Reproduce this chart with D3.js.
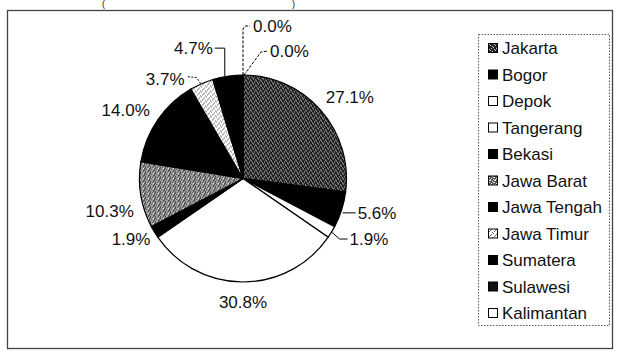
<!DOCTYPE html>
<html><head><meta charset="utf-8">
<script src="https://cdn.jsdelivr.net/npm/d3@7/dist/d3.min.js"></script>
<style>
html,body{margin:0;padding:0;background:#fff;}
svg{display:block;}
text{font-family:"Liberation Sans",Arial,sans-serif;fill:#111;}
</style></head>
<body>
<script>
const categories = ["Jakarta","Bogor","Depok","Tangerang","Bekasi","Jawa Barat","Jawa Tengah","Jawa Timur","Sumatera","Sulawesi","Kalimantan"];
const values = [27.1, 5.6, 1.9, 30.8, 1.9, 10.3, 14.0, 3.7, 4.7, 0.0, 0.0];
const labels = ["27.1%","5.6%","1.9%","30.8%","1.9%","10.3%","14.0%","3.7%","4.7%","0.0%","0.0%"];
const fills = ["url(#pJak)","#000","#fff","#fff","#000","url(#pJB)","#000","url(#pJT)","#000","#111","#fff"];

const W=617,H=357;
const svg=d3.select("body").append("svg").attr("width",W).attr("height",H);
const defs=svg.append("defs");
function pat(id,bg,dots,dotColor,size){
  const p=defs.append("pattern").attr("id",id).attr("patternUnits","userSpaceOnUse").attr("width",size).attr("height",size);
  p.append("rect").attr("width",size).attr("height",size).attr("fill",bg);
  dots.forEach(d=>p.append("rect").attr("x",d[0]).attr("y",d[1]).attr("width",1).attr("height",1).attr("fill",dotColor));
}
pat("pJak","#222",[[0,0],[2,1],[1,3],[3,2],[4,4]],"#c8c8c8",5);
pat("pJB","#555",[[0,0],[2,1],[1,3],[3,2],[4,0],[0,4],[3,4],[4,2]],"#e8e8e8",5);
pat("pJT","#ffffff",[[0,0],[2,2],[4,1],[1,4],[3,3]],"#6a6a6a",5);

// outer frame
svg.append("rect").attr("x",7.5).attr("y",10.5).attr("width",605).attr("height",338)
  .attr("fill","none").attr("stroke","#444").attr("stroke-width",1.3);

// title fragments (parentheses visible at the top edge)
svg.append("text").attr("x",102).attr("y",6.5).attr("font-size",9).text("(");
svg.append("text").attr("x",292).attr("y",6.5).attr("font-size",9).text(")");

const cx=243, cy=178.5, R=103.5;
const pie=d3.pie().sort(null).value(d=>d)(values);
const arc=d3.arc().innerRadius(0).outerRadius(R);
const g=svg.append("g").attr("transform",`translate(${cx},${cy})`);
g.selectAll("path").data(pie).join("path")
  .attr("d",arc).attr("fill",(d,i)=>fills[i])
  .attr("stroke","#000").attr("stroke-width",1.2);

function rim(i,r=R){const a=(pie[i].startAngle+pie[i].endAngle)/2;return [cx+r*Math.sin(a), cy-r*Math.cos(a)];}

// label placement: offset of label reference from rim point at mid-angle
const labelOffset=[[29,-13,"middle"],[16,3,"start"],[18,7,"start"],[0,20,"middle"],[-4,7,"end"],[-7,16,"end"],[-8,-10,"end"],[-17,-5,"end"],[-15,-28,"end"],[10,-49,"start"],[27,-24,"start"]];
const fs=17;
labels.forEach((t,i)=>{
  const p=rim(i), o=labelOffset[i];
  svg.append("text").attr("x",p[0]+o[0]).attr("y",p[1]+o[1]+6).attr("font-size",fs)
    .attr("text-anchor",o[2]).text(t);
});
// leader lines
const line=d3.line();
const leaders=[];
{const p=rim(1); leaders.push({pts:[[p[0]+1,p[1]+3],[p[0]+14,p[1]+3]],dash:null});}
{const p=rim(2); leaders.push({pts:[[p[0],p[1]],[p[0]+8,p[1]+7],[p[0]+16,p[1]+7]],dash:null});}
{const p=rim(7); leaders.push({pts:[[p[0]-1,p[1]],[p[0]-5,p[1]-6],[p[0]-14,p[1]-7]],dash:"2,1.5"});}
{const p=rim(8); leaders.push({pts:[[p[0]-3,p[1]],[p[0]-3,p[1]-28],[p[0]-13,p[1]-28]],dash:null});}
{const p=rim(9); leaders.push({pts:[[p[0],p[1]],[p[0],p[1]-46],[p[0]+2,p[1]-49],[p[0]+7,p[1]-49]],dash:"3,1.5"});}
{const p=rim(10); leaders.push({pts:[[p[0]+1,p[1]],[p[0]+18,p[1]-23],[p[0]+25,p[1]-24]],dash:"3,1.5"});}
leaders.forEach(l=>{
  svg.append("path").attr("d",line(l.pts)).attr("fill","none").attr("stroke","#000").attr("stroke-width",1)
    .attr("stroke-dasharray",l.dash);
});

// legend
const lg=svg.append("g");
lg.append("rect").attr("x",478.5).attr("y",34.5).attr("width",131).attr("height",291)
  .attr("fill","none").attr("stroke","#555").attr("stroke-width",1).attr("stroke-dasharray","1.5,1.5");
const ly=d3.scalePoint().domain(categories).range([48,313]);
categories.forEach((c,i)=>{
  const y=ly(c);
  lg.append("rect").attr("x",488.5).attr("y",y-4.5).attr("width",9).attr("height",9)
    .attr("fill",fills[i]).attr("stroke","#000").attr("stroke-width",1);
  lg.append("text").attr("x",502).attr("y",y+6).attr("font-size",17).text(c);
});
</script>
</body></html>
